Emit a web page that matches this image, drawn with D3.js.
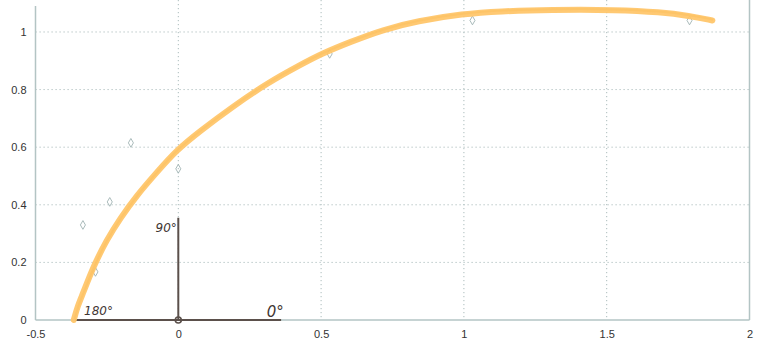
<!DOCTYPE html>
<html>
<head>
<meta charset="utf-8">
<script src="https://cdn.jsdelivr.net/npm/d3@7"></script>
<style>
  html, body { margin: 0; padding: 0; background: #ffffff; }
  svg { display: block; }
</style>
</head>
<body>
<svg id="chart" width="758" height="346"></svg>
<script>
// ---- data ----
const xTicks = [-0.5, 0, 0.5, 1, 1.5, 2];
const yTicks = [0, 0.2, 0.4, 0.6, 0.8, 1];
const xTickLabels = ["-0.5", "0", "0.5", "1", "1.5", "2"];
const yTickLabels = ["0", "0.2", "0.4", "0.6", "0.8", "1"];

// measured points (diamonds)
const pointX = [-0.334, -0.29, -0.24, -0.166, 0.0, 0.53, 1.03, 1.79];
const pointY = [0.33, 0.167, 0.41, 0.615, 0.525, 0.924, 1.04, 1.04];

// hand-drawn fitted curve
const curveX = [-0.366, -0.352, -0.333, -0.298, -0.251, -0.204, -0.146, -0.076, -0.006, 0.076, 0.192, 0.311, 0.426, 0.503, 0.601, 0.717, 0.836, 0.997, 1.126, 1.30, 1.54, 1.686, 1.79, 1.87];
const curveY = [0.0, 0.05, 0.094, 0.184, 0.278, 0.352, 0.432, 0.512, 0.590, 0.656, 0.742, 0.822, 0.885, 0.925, 0.965, 1.008, 1.038, 1.063, 1.072, 1.077, 1.077, 1.069, 1.056, 1.04];

// hand-drawn angle reference axes
const angleLabels = ["180°", "90°", "0°"];
const angleLabelX = [-0.33, -0.005, 0.31];
const angleLabelY = [0.018, 0.305, 0.01];
const hAxisX = [-0.36, 0.36];
const vAxisY = [0, 0.355];

// ---- chart ----
const svg = d3.select("#chart");
const x = d3.scaleLinear().domain([-0.5, 2]).range([35.5, 749.5]);
const y = d3.scaleLinear().domain([0, 1.111]).range([320, 0]);

const gridColor = "#abbcbc";
const frameColor = "#b3c4c4";

// grid lines
svg.append("g").selectAll("line")
  .data(yTicks.filter(d => d > 0))
  .join("line")
  .attr("x1", x(-0.5)).attr("x2", x(2))
  .attr("y1", d => y(d)).attr("y2", d => y(d))
  .attr("stroke", gridColor).attr("stroke-width", 1)
  .attr("stroke-dasharray", "1.2,2.8");

svg.append("g").selectAll("line")
  .data(xTicks.filter(d => d > -0.5 && d < 2))
  .join("line")
  .attr("x1", d => x(d)).attr("x2", d => x(d))
  .attr("y1", 0).attr("y2", y(0))
  .attr("stroke", gridColor).attr("stroke-width", 1)
  .attr("stroke-dasharray", "1.2,2.8");

// frame: left, bottom, right
svg.append("line").attr("x1", x(-0.5)).attr("x2", x(-0.5)).attr("y1", 6).attr("y2", y(0))
  .attr("stroke", frameColor).attr("stroke-width", 1.5);
svg.append("line").attr("x1", x(-0.5)).attr("x2", x(2)).attr("y1", y(0)).attr("y2", y(0))
  .attr("stroke", frameColor).attr("stroke-width", 1.5);
svg.append("line").attr("x1", x(2)).attr("x2", x(2)).attr("y1", 0).attr("y2", y(0))
  .attr("stroke", frameColor).attr("stroke-width", 1.5);

// axes tick labels
const xAxis = d3.axisBottom(x).tickValues(xTicks).tickSize(0).tickPadding(10)
  .tickFormat((d, i) => xTickLabels[i]);
const gx = svg.append("g").attr("transform", `translate(0,${y(0)})`).call(xAxis);
gx.select(".domain").remove();
gx.selectAll("text").attr("font-family", "Liberation Sans, Arial, sans-serif")
  .attr("font-size", 11).attr("fill", "#333");

const yAxis = d3.axisLeft(y).tickValues(yTicks).tickSize(0).tickPadding(9)
  .tickFormat((d, i) => yTickLabels[i]);
const gy = svg.append("g").attr("transform", `translate(${x(-0.5)},0)`).call(yAxis);
gy.select(".domain").remove();
gy.selectAll("text").attr("font-family", "Liberation Sans, Arial, sans-serif")
  .attr("font-size", 11).attr("fill", "#333");

// diamonds
const pts = pointX.map((d, i) => [d, pointY[i]]);
svg.append("g").selectAll("path")
  .data(pts)
  .join("path")
  .attr("transform", d => `translate(${x(d[0])},${y(d[1])})`)
  .attr("d", d3.symbol().type(d3.symbolDiamond).size(22))
  .attr("fill", "none").attr("stroke", "#9fb2b2").attr("stroke-width", 0.9);

// hand-drawn angle axes
const inkColor = "#5b504b";
svg.append("line").attr("x1", x(hAxisX[0])).attr("x2", x(hAxisX[1]))
  .attr("y1", y(0)).attr("y2", y(0))
  .attr("stroke", inkColor).attr("stroke-width", 2);
svg.append("line").attr("x1", x(0)).attr("x2", x(0))
  .attr("y1", y(vAxisY[0])).attr("y2", y(vAxisY[1]))
  .attr("stroke", inkColor).attr("stroke-width", 2);
svg.append("circle").attr("cx", x(0)).attr("cy", y(0)).attr("r", 3)
  .attr("fill", "none").attr("stroke", inkColor).attr("stroke-width", 1.6);

svg.append("g").selectAll("text")
  .data(angleLabels)
  .join("text")
  .attr("x", (d, i) => x(angleLabelX[i]))
  .attr("y", (d, i) => y(angleLabelY[i]))
  .attr("text-anchor", (d, i) => i === 1 ? "end" : "start")
  .attr("font-family", "DejaVu Sans, sans-serif")
  .attr("font-style", "italic")
  .attr("font-size", (d, i) => i === 2 ? 15 : 12)
  .attr("fill", "#3f3633")
  .text(d => d);

// orange fitted curve
const cdata = curveX.map((d, i) => [d, curveY[i]]);
const line = d3.line().x(d => x(d[0])).y(d => y(d[1])).curve(d3.curveBasis);
svg.append("path").datum(cdata)
  .attr("d", line)
  .attr("fill", "none")
  .attr("stroke", "#ffc467")
  .attr("stroke-opacity", 0.92)
  .attr("stroke-width", 6)
  .attr("stroke-linecap", "round");
svg.append("path").datum(cdata)
  .attr("d", line)
  .attr("transform", "translate(0.8,-0.8)")
  .attr("fill", "none")
  .attr("stroke", "#f9b94f")
  .attr("stroke-opacity", 0.35)
  .attr("stroke-width", 2);
</script>
</body>
</html>
